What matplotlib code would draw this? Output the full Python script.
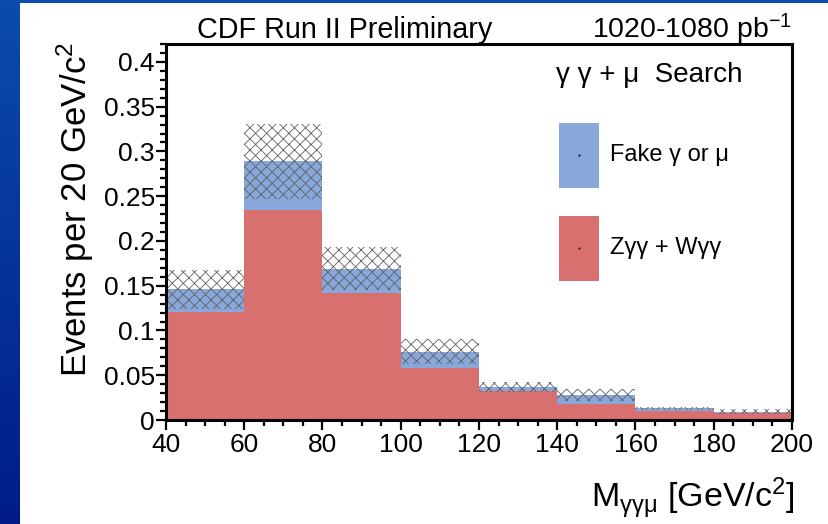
import numpy as np
import matplotlib
matplotlib.use("Agg")
import matplotlib.pyplot as plt
from matplotlib.patches import Rectangle
from matplotlib.ticker import MultipleLocator, FuncFormatter

plt.rcParams['font.family'] = ['Liberation Sans', 'DejaVu Sans']
plt.rcParams['mathtext.fontset'] = 'custom'
plt.rcParams['mathtext.rm'] = 'Liberation Sans'
plt.rcParams['mathtext.it'] = 'Liberation Sans:italic'
plt.rcParams['mathtext.bf'] = 'Liberation Sans:bold'
plt.rcParams['hatch.linewidth'] = 0.6

# binned M(gamma gamma mu) distribution, 20 GeV bins
bin_edges = [40, 60, 80, 100, 120, 140, 160, 180, 200]
zgg_wgg = [0.121, 0.235, 0.142, 0.058, 0.032, 0.0175, 0.010, 0.0075]
fake_total = [0.146, 0.289, 0.169, 0.076, 0.037, 0.0276, 0.013, 0.0093]
total_err = [0.022, 0.042, 0.024, 0.014, 0.0055, 0.0066, 0.0016, 0.0025]

red = '#d87070'
blue = '#88a8dc'

left = np.array(bin_edges[:-1])
width = np.diff(bin_edges)
fake = np.array(fake_total) - np.array(zgg_wgg)

fig = plt.figure(figsize=(8.29, 5.24), dpi=100)
ax = fig.add_axes([166/829, 1 - 420/524, 626/829, 376/524])

ax.bar(left, zgg_wgg, width=width, align='edge', color=red, linewidth=0, zorder=1)
ax.bar(left, fake, width=width, bottom=zgg_wgg, align='edge', color=blue,
       linewidth=0, zorder=1)
ax.bar(left, 2*np.array(total_err), width=width,
       bottom=np.array(fake_total) - np.array(total_err), align='edge',
       fill=False, hatch='xxx', edgecolor='#606060', linewidth=0, zorder=2)

ax.set_xlim(40, 200)
ax.set_ylim(0, 0.42)
ax.xaxis.set_major_locator(MultipleLocator(20))
ax.xaxis.set_minor_locator(MultipleLocator(5))
ax.yaxis.set_major_locator(MultipleLocator(0.05))
ax.yaxis.set_minor_locator(MultipleLocator(0.01))
ax.yaxis.set_major_formatter(FuncFormatter(lambda v, p: '%g' % round(v, 3)))
ax.tick_params(which='both', direction='out', width=1.6, labelsize=19, top=False, right=False)
ax.tick_params(which='major', length=7)
ax.tick_params(which='minor', length=4)
ax.tick_params(axis='y', pad=1)
ax.tick_params(axis='x', pad=2)
for s in ax.spines.values():
    s.set_linewidth(2.2)

# legend block
ax.text(0.623, 0.918, 'γ γ + μ  Search', transform=ax.transAxes, fontsize=20,
        va='center', ha='left')
ax.add_patch(Rectangle((0.628, 0.617), 0.064, 0.173, transform=ax.transAxes,
                       facecolor=blue, edgecolor='none'))
ax.add_patch(Rectangle((0.628, 0.370), 0.064, 0.173, transform=ax.transAxes,
                       facecolor=red, edgecolor='none'))
ax.plot([0.660, 0.660], [0.705, 0.457], 'k.', markersize=1, transform=ax.transAxes)
ax.text(0.709, 0.705, 'Fake γ or μ', transform=ax.transAxes, fontsize=17,
        va='center', ha='left')
ax.text(0.709, 0.457, 'Zγγ + Wγγ', transform=ax.transAxes, fontsize=17,
        va='center', ha='left')

# labels
fig.text(197/829, 1 - 38/524, 'CDF Run II Preliminary', fontsize=20.7,
         ha='left', va='baseline')
fig.text(792/829, 1 - 38/524, '1020-1080 pb$^{-1}$', fontsize=20.5,
         ha='right', va='baseline')
fig.text(75/829, 1 - 42/524, 'Events per 20 GeV/c$^{2}$', fontsize=25,
         rotation=90, ha='center', va='top')
fig.text(795/829, 1 - 508/524, r'M$_{\mathrm{γγμ}}$ [GeV/c$^{2}$]', fontsize=24.5,
         ha='right', va='baseline')

# blue slide frame
grad = np.linspace(0, 1, 256).reshape(-1, 1)
cmap = matplotlib.colors.LinearSegmentedColormap.from_list('frame', ['#0b4cae', '#001b88'])
bax = fig.add_axes([0, 0, 20/829, 1])
bax.imshow(grad, aspect='auto', cmap=cmap, extent=[0, 1, 0, 1])
bax.axis('off')
tax = fig.add_axes([0, 1 - 3/524, 1, 3/524])
tax.set_facecolor('#0b4cae')
tax.set_xticks([])
tax.set_yticks([])
for s in tax.spines.values():
    s.set_visible(False)

fig.savefig('out.png', dpi=100)
